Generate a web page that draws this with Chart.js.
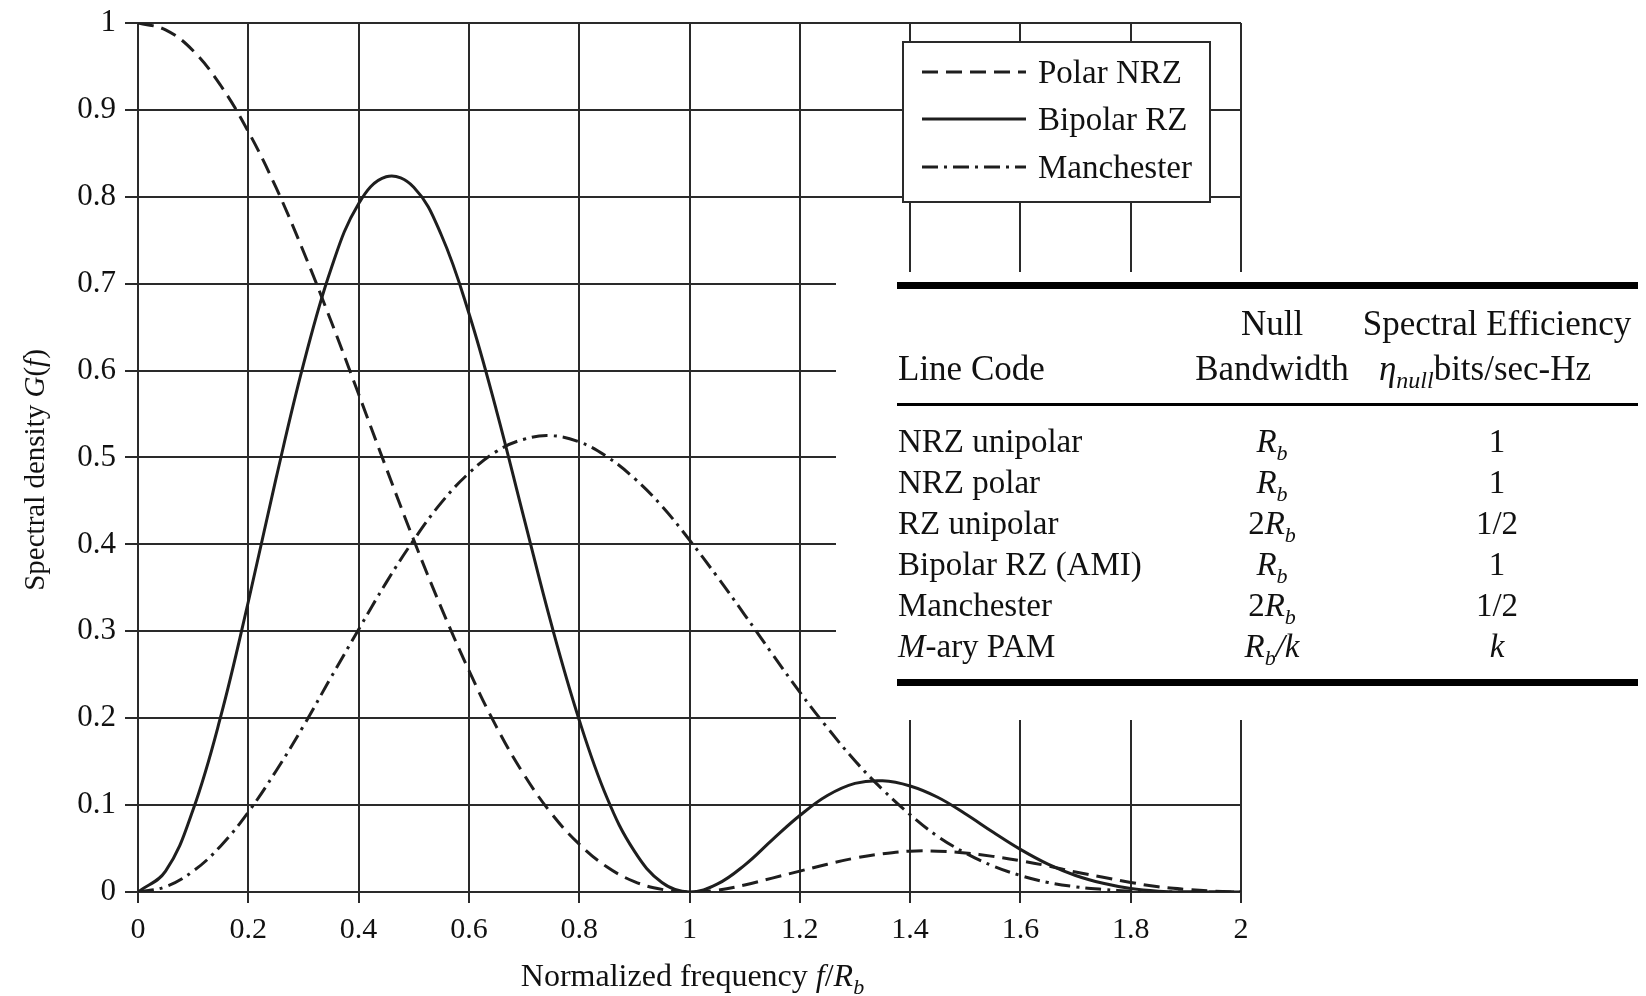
<!DOCTYPE html>
<html>
<head>
<meta charset="utf-8">
<title>Spectral density of line codes</title>
<script src="https://cdn.jsdelivr.net/npm/chart.js@4.4.0/dist/chart.umd.min.js"></script>
<style>
  body { margin: 0; background: #fff; }
  canvas { display: block; }
</style>
</head>
<body>
<canvas id="psdChart" width="1646" height="996"></canvas>
<script>
// normalized frequency f/Rb
const freq = [0, 0.05, 0.1, 0.15, 0.2, 0.25, 0.3, 0.35, 0.4, 0.45, 0.5, 0.55, 0.6, 0.65, 0.7, 0.75, 0.8, 0.85, 0.9, 0.95,
  1, 1.05, 1.1, 1.15, 1.2, 1.25, 1.3, 1.35, 1.4, 1.45, 1.5, 1.55, 1.6, 1.65, 1.7, 1.75, 1.8, 1.85, 1.9, 1.95, 2]

const polarNrz = [1.000, 0.992, 0.968, 0.928, 0.875, 0.811, 0.737, 0.657, 0.573, 0.488, 0.405, 0.327, 0.255, 0.190, 0.135, 0.090, 0.055, 0.029, 0.012, 0.003,
  0.000, 0.002, 0.008, 0.016, 0.024, 0.032, 0.039, 0.044, 0.047, 0.047, 0.045, 0.041, 0.036, 0.030, 0.023, 0.017, 0.011, 0.006, 0.003, 0.001, 0.000]

const bipolarRz = [0.000, 0.024, 0.095, 0.202, 0.334, 0.475, 0.607, 0.717, 0.792, 0.823, 0.811, 0.756, 0.666, 0.554, 0.430, 0.307, 0.198, 0.109, 0.047, 0.011,
  0.000, 0.009, 0.031, 0.060, 0.088, 0.111, 0.125, 0.128, 0.122, 0.109, 0.090, 0.069, 0.049, 0.032, 0.019, 0.010, 0.004, 0.001, 0.000, 0.000, 0.000]

const manchester = [0.000, 0.006, 0.024, 0.053, 0.092, 0.139, 0.191, 0.247, 0.302, 0.356, 0.405, 0.448, 0.482, 0.507, 0.521, 0.525, 0.518, 0.501, 0.476, 0.444,
  0.405, 0.363, 0.319, 0.274, 0.230, 0.189, 0.151, 0.118, 0.089, 0.064, 0.045, 0.030, 0.019, 0.011, 0.006, 0.003, 0.001, 0.000, 0.000, 0.000, 0.000]

const xTickValues = [0, 0.2, 0.4, 0.6, 0.8, 1, 1.2, 1.4, 1.6, 1.8, 2]
const yTickValues = [0, 0.1, 0.2, 0.3, 0.4, 0.5, 0.6, 0.7, 0.8, 0.9, 1]

// table of line codes  (*..* = italic, _{..} = subscript)
const tableHead1 = ['', 'Null', 'Spectral Efficiency']
const tableHead2 = ['Line Code', 'Bandwidth', '*η_{null}*bits/sec-Hz']
const lineCodes = ['NRZ unipolar', 'NRZ polar', 'RZ unipolar', 'Bipolar RZ (AMI)', 'Manchester', '*M*-ary PAM']
const nullBandwidths = ['*R_{b}*', '*R_{b}*', '2*R_{b}*', '*R_{b}*', '2*R_{b}*', '*R_{b}/k*']
const efficiencies = ['1', '1', '1/2', '1', '1/2', '*k*']

const xTitle = 'Normalized frequency *f*/*R_{b}*'
const yTitle = 'Spectral density *G*(*f*)'

const SERIF = '"Liberation Serif", "Times New Roman", serif'
const INK = '#111'
const GRID = '#2a2a2a'

function toPoints(ys) {
  return freq.map((f, i) => ({ x: f, y: ys[i] }))
}

function parseRich(str) {
  const out = []
  let italic = false, sub = false, buf = ''
  const push = () => { if (buf) out.push({ t: buf, italic: italic, sub: sub }); buf = '' }
  for (let i = 0; i < str.length; i++) {
    const c = str[i]
    if (c === '*') { push(); italic = !italic }
    else if (c === '_' && str[i + 1] === '{') { push(); sub = true; i++ }
    else if (c === '}' && sub) { push(); sub = false }
    else buf += c
  }
  push()
  return out
}

function segFont(s, size) {
  return (s.italic ? 'italic ' : '') + Math.round(s.sub ? size * 0.68 : size) + 'px ' + SERIF
}

function drawRich(ctx, str, x, y, size, align) {
  const segs = parseRich(str)
  let w = 0
  segs.forEach(s => { ctx.font = segFont(s, size); s.w = ctx.measureText(s.t).width; w += s.w })
  let cx = x
  if (align === 'center') cx = x - w / 2
  if (align === 'right') cx = x - w
  ctx.textAlign = 'left'
  ctx.textBaseline = 'alphabetic'
  segs.forEach(s => {
    ctx.font = segFont(s, size)
    ctx.fillText(s.t, cx, s.sub ? y + size * 0.24 : y)
    cx += s.w
  })
}

// axis titles, legend box and the table panel drawn on top of the plot
const overlayPlugin = {
  id: 'overlay',
  afterDraw(chart) {
    const ctx = chart.ctx
    const area = chart.chartArea
    ctx.save()
    ctx.fillStyle = INK

    drawRich(ctx, xTitle, (area.left + area.right) / 2 + 3, 986, 32, 'center')

    ctx.save()
    ctx.translate(44, 470)
    ctx.rotate(-Math.PI / 2)
    drawRich(ctx, yTitle, 0, 0, 29, 'center')
    ctx.restore()

    // legend
    ctx.fillStyle = '#fff'
    ctx.fillRect(903, 42, 307, 160)
    ctx.strokeStyle = GRID
    ctx.lineWidth = 2
    ctx.strokeRect(903, 42, 307, 160)
    const rowsY = [72, 119, 167]
    chart.data.datasets.forEach((ds, i) => {
      ctx.strokeStyle = ds.borderColor
      ctx.lineWidth = ds.borderWidth
      ctx.setLineDash(ds.borderDash || [])
      ctx.beginPath()
      ctx.moveTo(922, rowsY[i])
      ctx.lineTo(1026, rowsY[i])
      ctx.stroke()
      ctx.setLineDash([])
      ctx.fillStyle = INK
      drawRich(ctx, ds.label, 1038, rowsY[i] + 11, 33, 'left')
    })

    // table panel
    ctx.fillStyle = '#fff'
    ctx.fillRect(836, 272, 810, 448)
    ctx.fillStyle = '#000'
    ctx.fillRect(897, 282, 741, 7)
    ctx.fillRect(897, 403, 741, 3)
    ctx.fillRect(897, 679, 741, 7)

    const colLeft = 898, colMid = 1272, colRight = 1497
    ctx.fillStyle = INK
    drawRich(ctx, tableHead1[1], colMid, 335, 35, 'center')
    drawRich(ctx, tableHead1[2], colRight, 335, 35, 'center')
    drawRich(ctx, tableHead2[0], colLeft, 380, 35, 'left')
    drawRich(ctx, tableHead2[1], colMid, 380, 35, 'center')
    drawRich(ctx, tableHead2[2], 1485, 380, 35, 'center')

    lineCodes.forEach((name, i) => {
      const y = 452 + i * 41
      drawRich(ctx, name, colLeft, y, 33, 'left')
      drawRich(ctx, nullBandwidths[i], colMid, y, 33, 'center')
      drawRich(ctx, efficiencies[i], colRight, y, 33, 'center')
    })
    ctx.restore()
  }
}

function tickText(v) {
  return String(+v.toFixed(1))
}

new Chart(document.getElementById('psdChart'), {
  type: 'line',
  data: {
    datasets: [
      { label: 'Polar NRZ', data: toPoints(polarNrz), borderDash: [16, 8] },
      { label: 'Bipolar RZ', data: toPoints(bipolarRz), borderDash: [] },
      { label: 'Manchester', data: toPoints(manchester), borderDash: [16, 6, 3, 6] }
    ].map(ds => Object.assign(ds, {
      borderColor: '#1e1e1e',
      borderWidth: 3,
      pointRadius: 0,
      fill: false,
      tension: 0.4
    }))
  },
  options: {
    responsive: false,
    animation: false,
    devicePixelRatio: 1,
    events: [],
    layout: { padding: { top: 10, right: 405, left: 0, bottom: 0 } },
    plugins: {
      legend: { display: false },
      tooltip: { enabled: false }
    },
    scales: {
      x: {
        type: 'linear',
        min: 0,
        max: 2,
        afterBuildTicks: s => { s.ticks = xTickValues.map(v => ({ value: v })) },
        afterFit: s => { s.height = 104 },
        ticks: {
          autoSkip: false,
          maxRotation: 0,
          padding: 9,
          color: INK,
          font: { family: SERIF, size: 30 },
          callback: tickText
        },
        grid: { color: GRID, lineWidth: 2, tickLength: 11 },
        border: { color: GRID, width: 2 }
      },
      y: {
        min: 0,
        max: 1,
        afterBuildTicks: s => { s.ticks = yTickValues.map(v => ({ value: v })) },
        afterFit: s => { s.width = 138 },
        ticks: {
          autoSkip: false,
          padding: 9,
          color: INK,
          // tighter line height keeps the top label from pushing the plot down
          font: { family: SERIF, size: 31, lineHeight: 0.9 },
          callback: tickText
        },
        grid: { color: GRID, lineWidth: 2, tickLength: 13 },
        border: { color: GRID, width: 2 }
      }
    }
  },
  plugins: [overlayPlugin]
})
</script>
</body>
</html>
